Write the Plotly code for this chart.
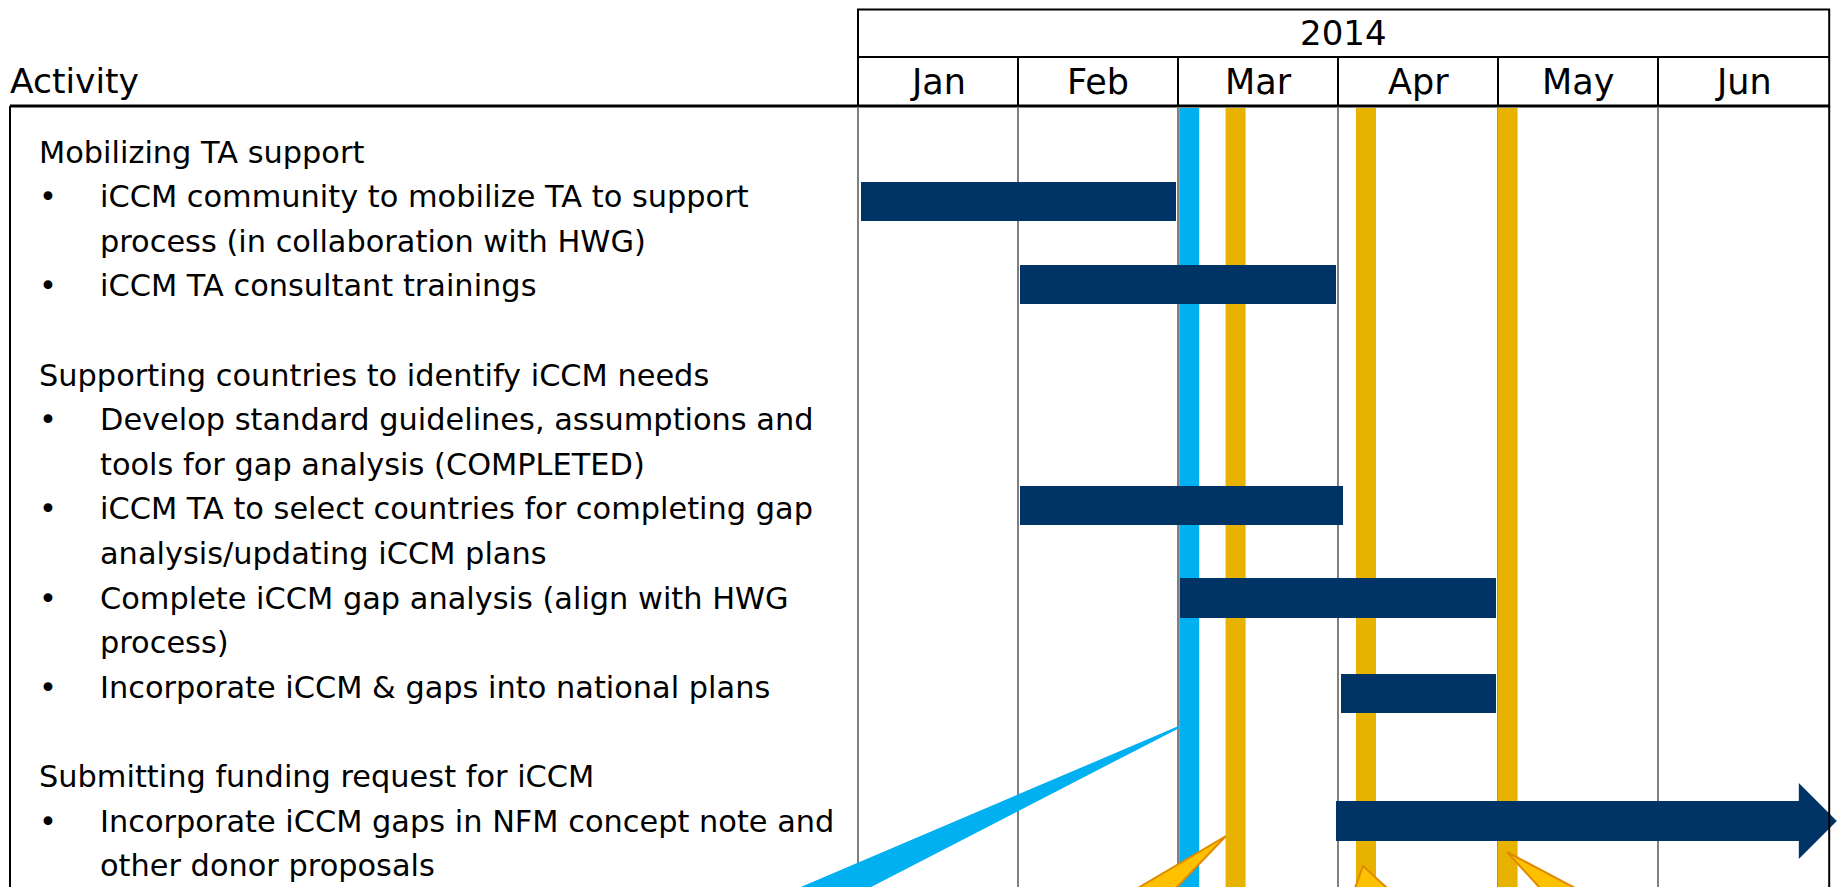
import plotly.graph_objects as go

W, H = 1837, 887

# ---------------- data ----------------
year_label = "2014"
months = ["Jan", "Feb", "Mar", "Apr", "May", "Jun"]

text_lines = [
    "Mobilizing TA support",
    "iCCM community to mobilize TA to support",
    "process (in collaboration with HWG)",
    "iCCM TA consultant trainings",
    "",
    "Supporting countries to identify iCCM needs",
    "Develop standard guidelines, assumptions and",
    "tools for gap analysis (COMPLETED)",
    "iCCM TA to select countries for completing gap",
    "analysis/updating iCCM plans",
    "Complete iCCM gap analysis (align with HWG",
    "process)",
    "Incorporate iCCM & gaps into national plans",
    "",
    "Submitting funding request for iCCM",
    "Incorporate iCCM gaps in NFM concept note and",
    "other donor proposals",
]
# h = section heading, b = bullet first line, c = continuation line
line_kind = ["h", "b", "c", "b", "", "h", "b", "c", "b", "c", "b", "c", "b", "", "h", "b", "c"]

# activity bars (months from 1 Jan 2014), row = text-line position of the bar
bar_activity = [
    "iCCM community to mobilize TA",
    "iCCM TA consultant trainings",
    "iCCM TA to select countries",
    "Complete iCCM gap analysis",
    "Incorporate iCCM & gaps into national plans",
    "Incorporate iCCM gaps in NFM concept note",
]
bar_start = [0.02, 1.01, 1.01, 2.01, 3.02, 2.99]
bar_end = [1.99, 2.99, 3.03, 3.99, 3.99, 5.88]
bar_row = [1.12, 2.96, 7.93, 10.0, 12.15, 15.0]
bar_ongoing = [False, False, False, False, False, True]

# milestone markers (months from 1 Jan 2014)
milestone_pos = [2.07, 2.36, 3.175, 4.06]
milestone_kind = ["blue", "gold", "gold", "gold"]

# ---------------- styling / geometry ----------------
DARK = "#003366"
BLUE = "#00B0F0"
GOLD_LINE = "#E8B200"
GOLD_FILL = "#FFC000"
GOLD_EDGE = "#E08A00"
GRID = "#808080"
FONT = "DejaVu Sans"

X0_PX, MONTH_PX = 858.0, 160.0      # pixel of 1 Jan, pixels per month
ROW0_PX, ROW_PX = 152.0, 44.6       # pixel of text row 0, pixels per row
TABLE_END = 6.07                    # right edge of table (month units)


def dx(px):
    return (px - X0_PX) / MONTH_PX


def dy(py):
    return (py - ROW0_PX) / ROW_PX


def pxp(px):
    return px / W


def pyp(py):
    return 1 - py / H


x_range = [dx(0), dx(W)]
y_range = [dy(H), dy(0)]

fig = go.Figure()

# bars
fig.add_trace(go.Bar(
    orientation="h",
    base=bar_start,
    x=[e - s for s, e in zip(bar_start, bar_end)],
    y=bar_row,
    width=0.875,
    marker=dict(color=DARK, line=dict(width=0)),
    hovertext=bar_activity,
    hoverinfo="text",
    showlegend=False,
))

# arrow heads for ongoing activities
for s, e, r, ong in zip(bar_start, bar_end, bar_row, bar_ongoing):
    if ong:
        hh = 0.853
        fig.add_trace(go.Scatter(
            x=[e, e + 0.2375, e, e],
            y=[r - hh, r, r + hh, r - hh],
            fill="toself", fillcolor=DARK, mode="lines",
            line=dict(width=0, color=DARK), hoverinfo="skip", showlegend=False,
        ))

shapes = []
top_body = 108
# month gridlines
for k in range(len(months)):
    shapes.append(dict(type="line", xref="x", yref="paper", x0=k, x1=k,
                       y0=pyp(top_body), y1=0, line=dict(color=GRID, width=2), layer="below"))
# milestone bars
for m, kind in zip(milestone_pos, milestone_kind):
    shapes.append(dict(type="rect", xref="x", yref="paper", x0=m - 0.0625, x1=m + 0.0625,
                       y0=0, y1=pyp(top_body), fillcolor=BLUE if kind == "blue" else GOLD_LINE,
                       line=dict(width=0), layer="below"))

# header table
hdr_top, hdr_mid, hdr_bot = 9.5, 57, 106
shapes.append(dict(type="rect", xref="x", yref="paper", x0=0, x1=TABLE_END,
                   y0=pyp(hdr_top), y1=pyp(hdr_bot), line=dict(color="black", width=2)))
shapes.append(dict(type="line", xref="x", yref="paper", x0=0, x1=TABLE_END,
                   y0=pyp(hdr_mid), y1=pyp(hdr_mid), line=dict(color="black", width=2)))
for k in range(1, len(months)):
    shapes.append(dict(type="line", xref="x", yref="paper", x0=k, x1=k,
                       y0=pyp(hdr_mid), y1=pyp(hdr_bot), line=dict(color="black", width=2)))
# thick rule under header
shapes.append(dict(type="line", xref="paper", yref="paper", x0=pxp(10), x1=pxp(X0_PX + MONTH_PX * TABLE_END),
                   y0=pyp(106), y1=pyp(106), line=dict(color="black", width=3)))
# left & right borders
shapes.append(dict(type="line", xref="paper", yref="paper", x0=pxp(10), x1=pxp(10),
                   y0=pyp(106), y1=0, line=dict(color="black", width=2)))
shapes.append(dict(type="line", xref="x", yref="paper", x0=TABLE_END, x1=TABLE_END,
                   y0=pyp(106), y1=0, line=dict(color="black", width=2)))


# callout tails (decorative)
def tail(tip, b1, b2, fill, edge):
    path = "M {} {} L {} {} L {} {} Z".format(dx(tip[0]), dy(tip[1]), dx(b1[0]), dy(b1[1]), dx(b2[0]), dy(b2[1]))
    return dict(type="path", xref="x", yref="y", path=path, fillcolor=fill,
                line=dict(color=edge, width=2), layer="above")


shapes.append(tail((1179, 727), (801, H + 1), (867, H + 1), BLUE, BLUE))
shapes.append(tail((1226, 836), (1138, H + 1), (1176, H + 1), GOLD_FILL, GOLD_EDGE))
shapes.append(tail((1363, 866), (1355, H + 1), (1387, H + 1), GOLD_FILL, GOLD_EDGE))
shapes.append(tail((1507, 852), (1540, H + 1), (1575, H + 1), GOLD_FILL, GOLD_EDGE))

annotations = []
# header texts
annotations.append(dict(text="Activity", xref="paper", yref="paper", x=pxp(8), y=pyp(81),
                        xanchor="left", yanchor="middle", showarrow=False,
                        font=dict(family=FONT, size=34.5, color="black")))
annotations.append(dict(text=year_label, xref="x", yref="paper", x=TABLE_END / 2, y=pyp(33),
                        xanchor="center", yanchor="middle", showarrow=False,
                        font=dict(family=FONT, size=34, color="black")))
for k, mname in enumerate(months):
    right = k + 1 if k < len(months) - 1 else TABLE_END
    annotations.append(dict(text=mname, xref="x", yref="paper", x=(k + right) / 2, y=pyp(82),
                            xanchor="center", yanchor="middle", showarrow=False,
                            font=dict(family=FONT, size=35, color="black")))

# activity text
for i, (t, kind) in enumerate(zip(text_lines, line_kind)):
    if not t:
        continue
    f = dict(family=FONT, size=30.4, color="black")
    if kind == "h":
        annotations.append(dict(text=t, xref="paper", yref="y", x=pxp(37), y=i,
                                xanchor="left", yanchor="middle", showarrow=False, font=f))
    else:
        if kind == "b":
            annotations.append(dict(text="•", xref="paper", yref="y", x=pxp(37), y=i,
                                    xanchor="left", yanchor="middle", showarrow=False, font=f))
        annotations.append(dict(text=t, xref="paper", yref="y", x=pxp(98), y=i,
                                xanchor="left", yanchor="middle", showarrow=False, font=f))

fig.update_layout(
    width=W, height=H, autosize=False,
    margin=dict(l=0, r=0, t=0, b=0),
    paper_bgcolor="white", plot_bgcolor="white",
    xaxis=dict(range=x_range, domain=[0, 1], visible=False, showgrid=False, zeroline=False, fixedrange=True),
    yaxis=dict(range=y_range, domain=[0, 1], visible=False, showgrid=False, zeroline=False, fixedrange=True),
    shapes=shapes, annotations=annotations, showlegend=False, bargap=0,
)

fig.write_html("out.html", config={"displayModeBar": False},
               post_script="document.body.style.margin='0px';document.body.style.overflow='hidden';")
